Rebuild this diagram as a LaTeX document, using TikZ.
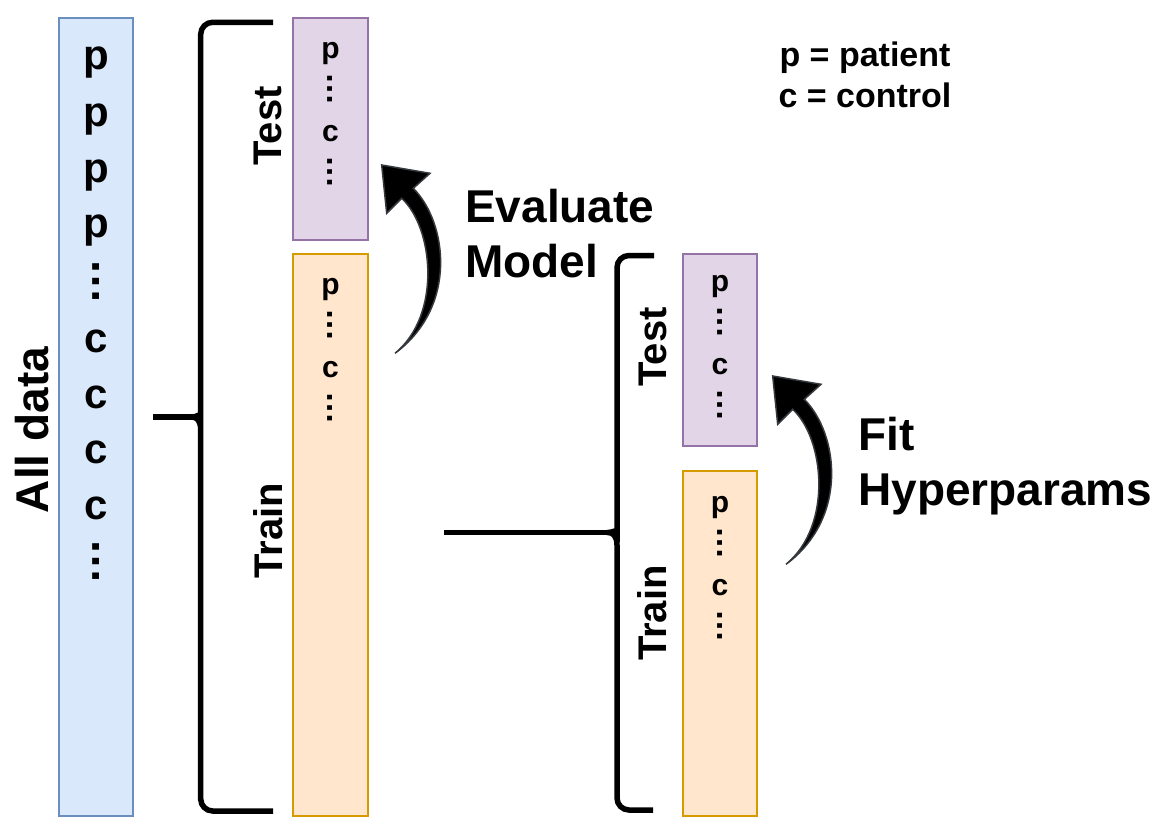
\documentclass[tikz,border=0pt]{standalone}
\usepackage{fontspec}
\setmainfont{Liberation Sans}
\usepackage{tikz}

\definecolor{allfill}{HTML}{DAE8FC}
\definecolor{alldraw}{HTML}{6C8EBF}
\definecolor{testfill}{HTML}{E1D5E7}
\definecolor{testdraw}{HTML}{9673A6}
\definecolor{trainfill}{HTML}{FFE6CC}
\definecolor{traindraw}{HTML}{D79B00}
\definecolor{arrowline}{HTML}{36393D}

\tikzset{
  box/.style={draw, line width=1.6pt, minimum width=74pt, inner sep=0pt},
  brace/.style={line width=5.5pt},
  lbl/.style={font=\fontsize{40}{48}\selectfont\bfseries, rotate=90, inner sep=0pt},
  big/.style={font=\fontsize{46}{55}\selectfont\bfseries, align=left, anchor=west, inner sep=0pt},
  bigletter/.style={font=\fontsize{42}{50}\selectfont\bfseries, inner sep=0pt},
  bigdots/.style={font=\fontsize{46}{50}\selectfont\bfseries, rotate=90, inner sep=0pt},
  smallletter/.style={font=\fontsize{30}{36}\selectfont\bfseries, inner sep=0pt},
  smalldots/.style={font=\fontsize{33}{36}\selectfont\bfseries, rotate=90, inner sep=0pt},
  bendarrow/.pic={
    \path[fill=black, draw=arrowline, line width=1.5pt]
      (13.3,188.3) .. controls (76,142) and (66,58) .. (31.6,23.3)
      -- (48.3,8.3) -- (0,0) -- (5,48.3) -- (20,33.3)
      .. controls (52,63) and (60,150) .. (13.3,188.3) -- cycle;
  }
}

\begin{document}
\begin{tikzpicture}[x=1pt, y=-1pt]
  \useasboundingbox (0,0) rectangle (1169,829);

  % Todos los datos
  \node[box, fill=allfill, draw=alldraw, minimum height=798pt] (alldata) at (96,417) {};
  \foreach \y [count=\i] in {63,120,176,231}
    \node[bigletter] (ap\i) at (96,\y) {p};
  \foreach \y [count=\i] in {341,397,452,508}
    \node[bigletter] (ac\i) at (96,\y) {c};
  \foreach \y [count=\i] in {281,561}
    \node[bigdots] (ad\i) at (96,\y) {…};
  \node[lbl, font=\fontsize{46}{55}\selectfont\bfseries] (alldatal) at (32,430) {All data};

  % Primera division
  \coordinate (tipA) at (192,417);
  \coordinate (endA) at (153,417);
  \draw[brace] (273,22.3) [rounded corners=12pt] -- (200.7,22.3) -- (200.7,404) [sharp corners]
    .. controls (200.7,413) and (197,417) .. (tipA)
    .. controls (197,417) and (200.7,421) .. (200.7,430) [rounded corners=12pt]
    -- (200.7,811) -- (273,811);
  \draw[brace] (endA) -- (tipA);

  \node[box, fill=testfill, draw=testdraw, minimum width=75pt, minimum height=222pt] (testA) at (330.5,129) {};
  \node[box, fill=trainfill, draw=traindraw, minimum width=75pt, minimum height=562pt] (trainA) at (330.5,535) {};
  \node[lbl] (testAl) at (268,126) {Test};
  \node[lbl] (trainAl) at (268,531) {Train};

  % Segunda division
  \coordinate (tipB) at (608,532.5);
  \coordinate (endB) at (444,532.5);
  \draw[brace] (654,255.5) [rounded corners=12pt] -- (617,255.5) -- (617,520) [sharp corners]
    .. controls (617,529) and (613,532.5) .. (tipB)
    .. controls (613,532.5) and (617,536) .. (617,545) [rounded corners=12pt]
    -- (617,810) -- (653,810);
  \draw[brace] (endB) -- (tipB);

  \node[box, fill=testfill, draw=testdraw, minimum height=192pt] (testB) at (720,350) {};
  \node[box, fill=trainfill, draw=traindraw, minimum height=345pt] (trainB) at (720,643.5) {};
  \node[lbl] (testBl) at (653,347) {Test};
  \node[lbl] (trainBl) at (652,613) {Train};

  % Contenido de las cajas pequenas
  \foreach \x/\y/\n in {330.5/54/tA, 330.5/290/rA, 720/287/tB, 720/508/rB} {
    \node[smallletter] (\n-p) at (\x,\y) {p};
    \node[smalldots] (\n-d1) at (\x,\y+35) {…};
    \node[smallletter] (\n-c) at (\x,\y+80) {c};
    \node[smalldots] (\n-d2) at (\x,\y+118) {…};
  }

  % Flechas curvas
  \pic (evalarrow) at (381.7,165) {bendarrow};
  \pic (fitarrow) at (772.7,376) {bendarrow};
  \node[big] (evall) at (465,234) {Evaluate\\Model};
  \node[big] (fitl) at (858,466) {Fit\\Hyperparams};

  % Leyenda
  \node[font=\fontsize{34}{40.5}\selectfont\bfseries, align=center, inner sep=0pt] (legend) at (865,75) {p = patient\\c = control};
\end{tikzpicture}
\end{document}
